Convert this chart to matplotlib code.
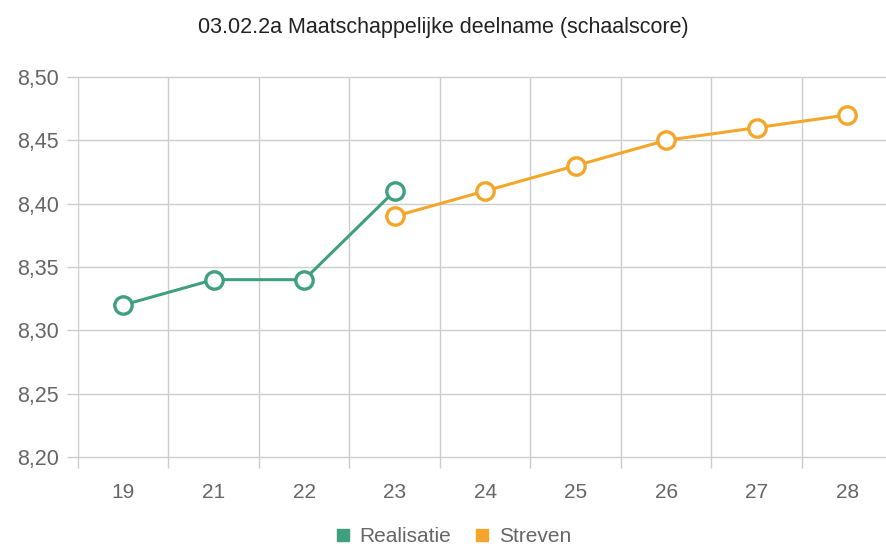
import matplotlib.pyplot as plt
from matplotlib.lines import Line2D
from matplotlib.ticker import FixedLocator, FuncFormatter

plt.rcParams['font.family'] = ['Liberation Sans', 'DejaVu Sans']

# data
jaren = ['19', '21', '22', '23', '24', '25', '26', '27', '28']
realisatie = [8.32, 8.34, 8.34, 8.41, None, None, None, None, None]
streven = [None, None, None, 8.39, 8.41, 8.43, 8.45, 8.46, 8.47]

groen = '#3f9f7f'
oranje = '#f4a62a'
grijs = '#666666'
raster = '#cccccc'

fig = plt.figure(figsize=(8.86, 5.47), dpi=100)
ax = fig.add_axes([78 / 886, 1 - 457 / 547, 1 - 78 / 886, (457 - 77) / 547])

x = list(range(len(jaren)))

def teken(waarden, kleur, naam):
    xs = [i for i, v in zip(x, waarden) if v is not None]
    ys = [v for v in waarden if v is not None]
    ax.plot(xs, ys, color=kleur, lw=2.2, marker='o', ms=12.5,
            mfc='white', mec=kleur, mew=2.4, label=naam, zorder=3)

teken(realisatie, groen, 'Realisatie')
teken(streven, oranje, 'Streven')

ax.set_xlim(-0.5, 8.43)
ax.set_ylim(8.20, 8.50)
ax.set_yticks([8.20, 8.25, 8.30, 8.35, 8.40, 8.45, 8.50])
ax.yaxis.set_major_formatter(FuncFormatter(lambda v, p: f'{v:.2f}'.replace('.', ',')))
ax.set_xticks(x)
ax.set_xticklabels(jaren)
ax.xaxis.set_minor_locator(FixedLocator([i - 0.5 for i in x]))

for s in ax.spines.values():
    s.set_visible(False)
ax.grid(True, axis='y', color=raster, lw=1)
ax.grid(True, axis='x', which='minor', color=raster, lw=1)
for g in ax.yaxis.get_gridlines():
    g.set_clip_on(False)
ax.tick_params(axis='x', which='major', length=0, pad=19, labelsize=15, labelcolor=grijs)
ax.tick_params(axis='x', which='minor', length=8, color=raster, width=1)
ax.tick_params(axis='y', length=8, color=raster, width=1, pad=6, labelsize=15.5, labelcolor=grijs)

fig.text(0.5, 1 - 27 / 547, '03.02.2a Maatschappelijke deelname (schaalscore)',
         ha='center', va='center', fontsize=15.5, color='#222222')

handles = [Line2D([], [], ls='none', marker='s', ms=9, mfc=groen, mec=groen),
           Line2D([], [], ls='none', marker='s', ms=9, mfc=oranje, mec=oranje)]
fig.legend(handles, ['Realisatie', 'Streven'], loc='center', bbox_to_anchor=(0.51, 1 - 537 / 547),
           ncol=2, frameon=False, fontsize=15, labelcolor=grijs,
           handletextpad=0.3, columnspacing=1.0, handlelength=1)

fig.savefig('out.png', dpi=100)
